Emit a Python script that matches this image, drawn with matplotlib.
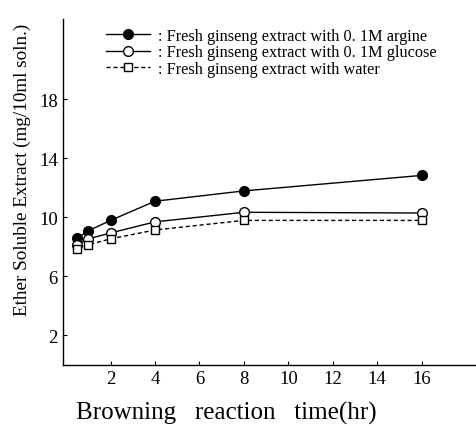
import matplotlib
matplotlib.use("Agg")
import matplotlib.pyplot as plt

plt.rcParams["font.family"] = ["Liberation Serif", "DejaVu Serif"]

# browning reaction time (hr)
hours = [0.5, 1, 2, 4, 8, 16]

# ether soluble extract (mg/10ml soln.)
arginine = [8.6, 9.1, 9.8, 11.1, 11.8, 12.85]
glucose = [8.15, 8.55, 8.95, 9.7, 10.35, 10.3]
water = [7.85, 8.15, 8.55, 9.15, 9.8, 9.8]

labels = [
    ": Fresh ginseng extract with 0. 1M argine",
    ": Fresh ginseng extract with 0. 1M glucose",
    ": Fresh ginseng extract with water",
]

xticks = [2, 4, 6, 8, 10, 12, 14, 16]
yticks = [2, 6, 10, 14, 18]

fig = plt.figure(figsize=(4.76, 4.27), dpi=100)
ax = fig.add_axes([0.132, 0.143, 0.868, 0.810])

ax.plot(hours, arginine, "-o", color="black", linewidth=1.0,
        markersize=7, markerfacecolor="black", label=labels[0])
ax.plot(hours, glucose, "-o", color="black", linewidth=1.0,
        markersize=7, markerfacecolor="white", label=labels[1])
ax.plot(hours, water, "--s", color="black", linewidth=1.0, dashes=(3, 2),
        markersize=5.5, markerfacecolor="white", label=labels[2])

ax.set_xlim(-0.15, 18.45)
ax.set_ylim(0, 23.45)
ax.set_xticks(xticks)
ax.set_yticks(yticks)

ax.set_xlabel("Browning   reaction   time(hr)", fontsize=18)
ax.xaxis.set_label_coords(0.395, -0.105)
ax.set_ylabel("Ether Soluble Extract (mg/10ml soln.)", fontsize=13.8)
ax.yaxis.set_label_coords(-0.076, 0.566)

ax.tick_params(direction="in", length=3, labelsize=13.5, width=0.8)
for side in ("top", "right"):
    ax.spines[side].set_visible(False)
for side in ("left", "bottom"):
    ax.spines[side].set_linewidth(1.0)

ax.legend(loc="upper left", bbox_to_anchor=(0.088, 0.993), frameon=False,
          fontsize=11.7, handlelength=2.75, handletextpad=0.45,
          labelspacing=0.02, borderaxespad=0)

fig.savefig("out.png", dpi=100)
